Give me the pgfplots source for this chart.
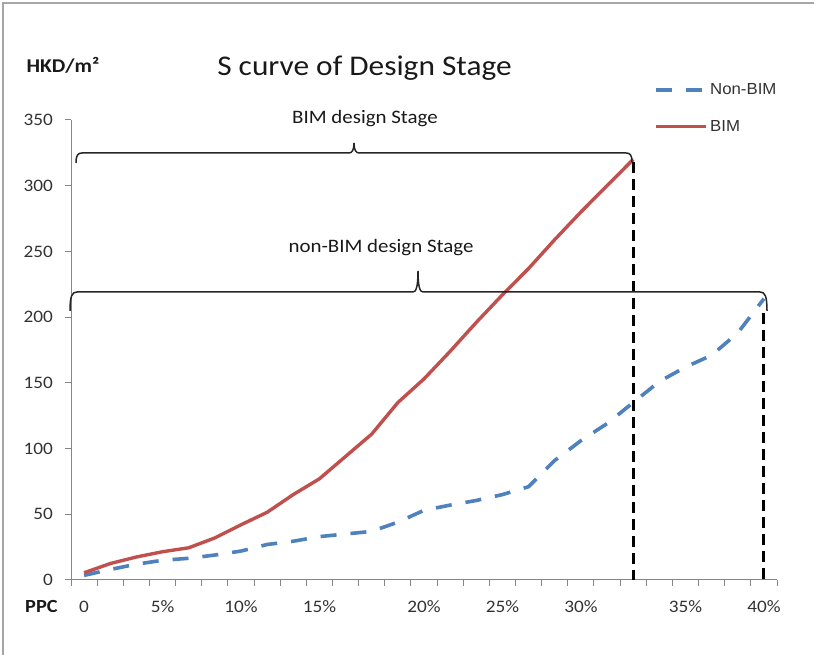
\documentclass[border=0pt]{standalone}
\usepackage{pgfplots}
\pgfplotsset{compat=1.18}
\usepackage{fontspec}
\setmainfont{Carlito}[FakeStretch=1.1]
\newfontfamily\legfont{Liberation Sans}[FakeStretch=1.05]
\definecolor{bimred}{RGB}{192,80,77}
\definecolor{nonblue}{RGB}{79,129,189}
\definecolor{axgray}{RGB}{134,134,134}
\definecolor{txt}{RGB}{50,50,50}

\begin{document}
\begin{tikzpicture}
\useasboundingbox (0,0) rectangle (814pt,655pt);
\begin{axis}[
    at={(71pt,75pt)}, anchor=south west,
    width=706pt, height=460pt, scale only axis,
    xmin=-0.5, xmax=26.5, ymin=0, ymax=350,
    clip=false,
    axis lines=left,
    axis line style={axgray, line width=1pt, -},
    tick style={axgray, line width=1pt},
    tick align=outside, major tick length=6pt,
    xtick={-0.5,0.5,...,26.5}, xticklabels={},
    extra x ticks={0,3,6,9,13,16,19,23,26},
    extra x tick labels={0,5\%,10\%,15\%,20\%,25\%,30\%,35\%,40\%},
    extra x tick style={major tick length=0pt},
    ytick={0,50,...,350},
    /pgf/number format/assume math mode=true,
    ticklabel style={font=\fontsize{17.5}{20}\selectfont, text=txt},
    xticklabel style={anchor=base, yshift=-33pt},
    yticklabel style={anchor=east, inner sep=0pt, xshift=-12pt},
    legend style={draw=none, fill=none, at={(0.822,1.026)}, anchor=west,
        font=\legfont\fontsize{16}{18}\selectfont, row sep=20pt, text=txt},
    legend cell align=left,
    legend image code/.code={\draw[#1] (0pt,0pt) -- (50pt,0pt);},
]
\addplot[nonblue, line width=3.6pt, dash pattern=on 16pt off 14pt] coordinates {
    (0,3.5) (1,8) (2,12) (3,15) (4,16.5) (5,19) (6,22) (7,27) (8,29.5)
    (9,33) (10,35) (11,37) (12,44) (13,53) (14,57) (15,60.5) (16,65)
    (17,71) (18,91) (19,106) (20,119) (21,135) (22,151) (23,162)
    (24,171) (25,188) (26,214)
};
\addlegendentry{Non-BIM}
\addplot[bimred, line width=3.4pt, line join=round] coordinates {
    (0,5.5) (1,12.5) (2,17.5) (3,21.5) (4,24.5) (5,32) (6,42) (7,51.5)
    (8,65) (9,77) (10,94) (11,111) (12,135) (13,153) (14,174) (15,196)
    (16,217) (17,237) (18,259) (19,280) (20,300) (21,320)
};
\addlegendentry{BIM}
\addplot[black, line width=3pt, dash pattern=on 11pt off 6pt, forget plot] coordinates {(21,318) (21,0)};
\addplot[black, line width=3pt, dash pattern=on 11pt off 6pt, forget plot] coordinates {(26,203) (26,0)};
\end{axis}
\begin{scope}[x=1pt, y=-1pt, yshift=655pt]
  \draw[gray!70, line width=1.2pt] (3,655) -- (3,3) -- (814,3);
  \draw[black!85, line width=1.5pt] (76,163) .. controls (76,155) and (78,153) .. (82,153)
      -- (349,153) .. controls (352,153) and (354,150) .. (354,143)
      .. controls (354,150) and (356,153) .. (359,153) -- (626,153)
      .. controls (630,153) and (632,155) .. (632,162);
  \draw[black!85, line width=1.5pt] (70,311) .. controls (70,296) and (72,292) .. (77,292)
      -- (413,292) .. controls (416,292) and (418,287) .. (418,271)
      .. controls (418,287) and (420,292) .. (423,292) -- (760,292)
      .. controls (765,292) and (767,296) .. (767,311);
  \node[anchor=base, inner sep=0pt, font=\fontsize{28.5}{32}\selectfont, text=black!90] at (364.5,76) {S curve of Design Stage};
  \node[anchor=base, inner sep=0pt, font=\bfseries\fontsize{19.5}{22}\selectfont, text=black!90] at (63,72.5) {HKD/m²};
  \node[anchor=base west, inner sep=0pt, font=\bfseries\fontsize{18.5}{20}\selectfont, text=black!90] at (25,613) {PPC};
  \node[anchor=base, inner sep=0pt, font=\fontsize{19}{22}\selectfont, text=black!90] at (365,123.5) {BIM design Stage};
  \node[anchor=base, inner sep=0pt, font=\fontsize{19}{22}\selectfont, text=black!90] at (381,252.7) {non-BIM design Stage};
\end{scope}
\end{tikzpicture}
\end{document}
